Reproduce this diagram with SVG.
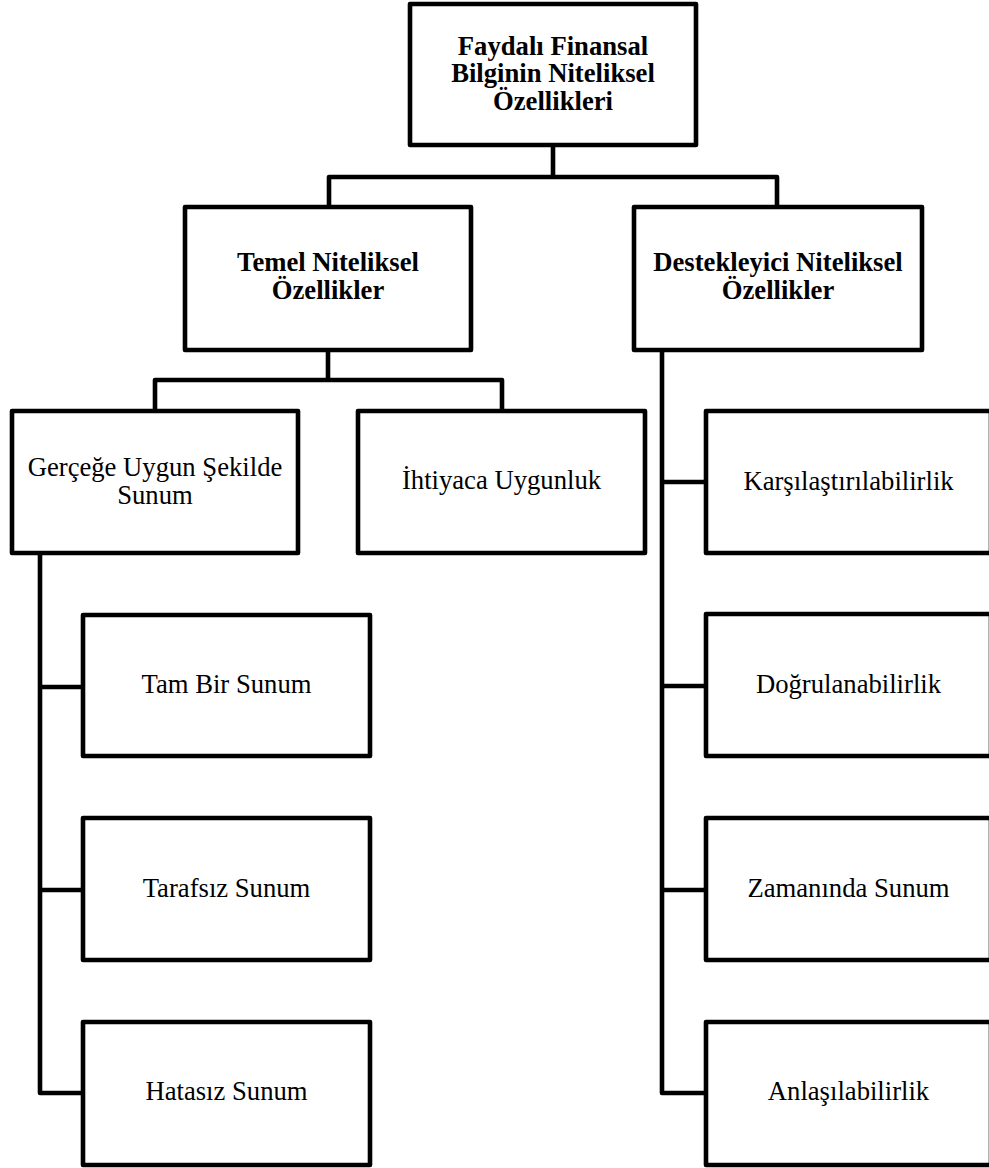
<svg xmlns="http://www.w3.org/2000/svg" width="989" height="1168" viewBox="0 0 989 1168">
<style>
.box{fill:#fff;stroke:#000;stroke-width:4.6;stroke-linejoin:round}
.conn{fill:none;stroke:#000;stroke-width:4.6;stroke-linejoin:round}
text{font-family:"Liberation Serif","Times New Roman",serif;font-size:26.67px;fill:#000;text-anchor:middle}
.b{font-weight:bold}
</style>
<rect width="989" height="1168" fill="#fff"/>
<g id="connectors">
<path class="conn" d="M553,145 V177 M329,207 V177 H777 V207"/>
<path class="conn" d="M328,350 V380 M155,411 V380 H502 V411"/>
<path class="conn" d="M40,553 V1093 H83 M40,687 H83 M40,890 H83"/>
<path class="conn" d="M662,350 V1093 H706 M662,482 H706 M662,686 H706 M662,890 H706"/>
</g>
<g id="n-root">
<rect class="box" x="410" y="4" width="286" height="141"/>
<text class="b" x="553" y="55">Faydalı Finansal</text>
<text class="b" x="553" y="82">Bilginin Niteliksel</text>
<text class="b" x="553" y="110">Özellikleri</text>
</g>
<g id="n-temel">
<rect class="box" x="185" y="207" width="286" height="143"/>
<text class="b" x="328" y="271">Temel Niteliksel</text>
<text class="b" x="328" y="298.5">Özellikler</text>
</g>
<g id="n-destek">
<rect class="box" x="634" y="207" width="288" height="143"/>
<text class="b" x="778" y="271">Destekleyici Niteliksel</text>
<text class="b" x="778" y="298.5">Özellikler</text>
</g>
<g id="n-gercege">
<rect class="box" x="12" y="411" width="286" height="142"/>
<text x="155" y="476">Gerçeğe Uygun Şekilde</text>
<text x="155" y="504">Sunum</text>
</g>
<g id="n-ihtiyaca">
<rect class="box" x="358" y="411" width="287" height="142"/>
<text x="501.5" y="489">İhtiyaca Uygunluk</text>
</g>
<g id="n-karsilastirilabilirlik">
<rect class="box" x="706" y="411" width="285" height="142"/>
<text x="848.5" y="490">Karşılaştırılabilirlik</text>
</g>
<g id="n-tam">
<rect class="box" x="83" y="615" width="287" height="141"/>
<text x="226.5" y="693">Tam Bir Sunum</text>
</g>
<g id="n-tarafsiz">
<rect class="box" x="83" y="818" width="287" height="142"/>
<text x="226.5" y="897">Tarafsız Sunum</text>
</g>
<g id="n-hatasiz">
<rect class="box" x="83" y="1022" width="287" height="143"/>
<text x="226.5" y="1100">Hatasız Sunum</text>
</g>
<g id="n-dogrulanabilirlik">
<rect class="box" x="706" y="614" width="285" height="142"/>
<text x="848.5" y="693">Doğrulanabilirlik</text>
</g>
<g id="n-zamaninda">
<rect class="box" x="706" y="818" width="285" height="142"/>
<text x="848.5" y="897">Zamanında Sunum</text>
</g>
<g id="n-anlasilabilirlik">
<rect class="box" x="706" y="1022" width="285" height="143"/>
<text x="848.5" y="1100">Anlaşılabilirlik</text>
</g>
</svg>
